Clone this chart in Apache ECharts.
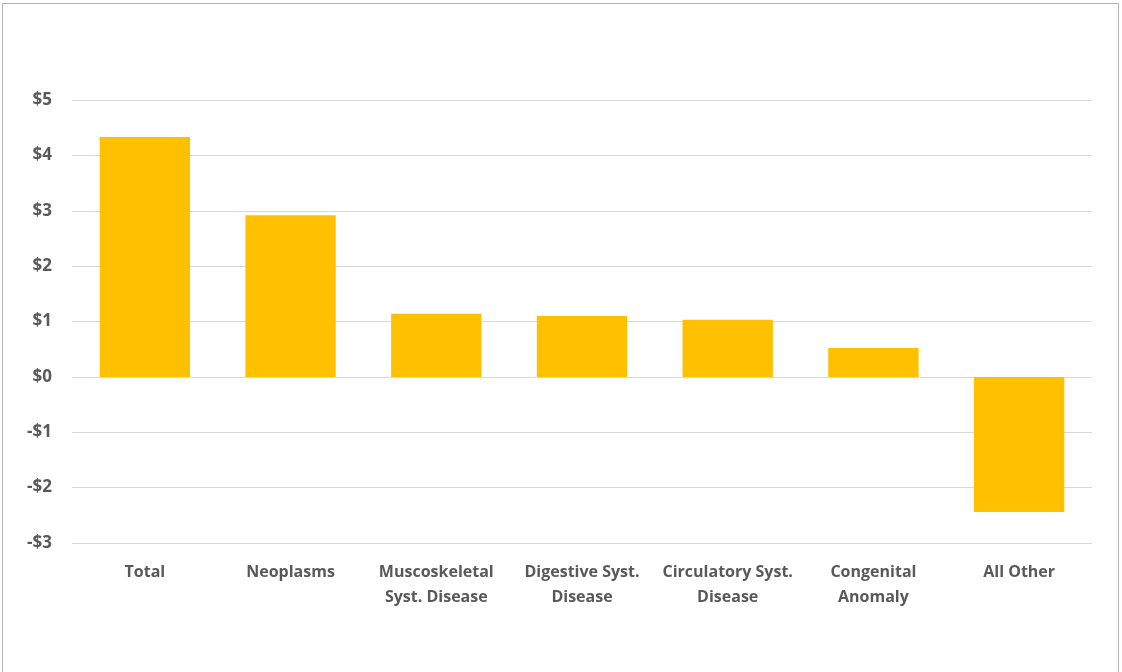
<!DOCTYPE html>
<html lang="en">
<head>
    <meta charset="utf-8" />
    <title>ECharts</title>
    <script src="https://cdn.jsdelivr.net/npm/echarts@6/dist/echarts.min.js"></script>
    <style>
        body { margin: 0; background: #fff; }
        #frame { position: absolute; left: 2px; top: 3px; width: 1117px; height: 680px; border: 1px solid #b4b4b4; box-sizing: border-box; }
    </style>
</head>
<body>
<div id="frame"></div>
<div id="main" style="position:absolute;left:0;top:0;width: 1122px;height:672px;"></div>
<script type="text/javascript">
    // categories and values ($)
    var categories = ['Total', 'Neoplasms', 'Muscoskeletal\nSyst. Disease', 'Digestive Syst.\nDisease',
        'Circulatory Syst.\nDisease', 'Congenital\nAnomaly', 'All Other'];
    var values = [4.33, 2.92, 1.14, 1.10, 1.03, 0.52, -2.44];
    var yTicks = [-3, -2, -1, 0, 1, 2, 3, 4, 5];

    var myChart = echarts.init(document.getElementById('main'), null, {renderer: 'canvas'});

    var option = {
        animation: false,
        grid: { left: 72, right: 30, top: 100, bottom: 129 },
        xAxis: {
            type: 'category',
            data: categories,
            axisLine: { show: false },
            axisTick: { show: false },
            axisLabel: {
                interval: 0,
                margin: 17,
                color: '#595959',
                fontFamily: 'Open Sans',
                fontWeight: 'bold',
                fontSize: 16,
                lineHeight: 25
            }
        },
        yAxis: {
            type: 'value',
            min: yTicks[0],
            max: yTicks[yTicks.length - 1],
            interval: 1,
            axisLine: { show: false },
            axisTick: { show: false },
            splitLine: { lineStyle: { color: '#d9d9d9', width: 1 } },
            axisLabel: {
                margin: 20,
                color: '#595959',
                fontFamily: 'Open Sans',
                fontWeight: 'bold',
                fontSize: 17,
                formatter: function (v) { return (v < 0 ? '-$' : '$') + Math.abs(v); }
            }
        },
        series: [
            {
                type: 'bar',
                data: values,
                barWidth: '62%',
                itemStyle: { color: '#FFC000' }
            }
        ]
    };
    myChart.setOption(option);
</script>
</body>
</html>
